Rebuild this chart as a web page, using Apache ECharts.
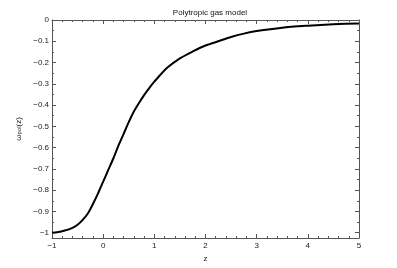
<!DOCTYPE html>
<html><head><meta charset="utf-8">
<script src="https://cdn.jsdelivr.net/npm/echarts@6/dist/echarts.min.js"></script>
<style>html,body{margin:0;padding:0;background:#fff}#c{width:397px;height:268px}</style>
</head><body><div id="c"></div>
<script>
const zValues = [-1, -0.9, -0.75, -0.6, -0.5, -0.4, -0.3, -0.2, -0.1, 0, 0.1, 0.2, 0.3, 0.4, 0.5, 0.6, 0.7, 0.8, 0.9, 1.0, 1.25, 1.5, 1.75, 2.0, 2.25, 2.5, 2.75, 3.0, 3.5, 4.0, 4.5, 5.0];
const wValues = [-1, -0.998, -0.99, -0.977, -0.963, -0.94, -0.91, -0.865, -0.815, -0.76, -0.705, -0.65, -0.59, -0.535, -0.48, -0.43, -0.39, -0.353, -0.32, -0.29, -0.225, -0.18, -0.148, -0.12, -0.1, -0.08, -0.064, -0.052, -0.036, -0.027, -0.02, -0.016];
const yMajorTicks = [0, -0.1, -0.2, -0.3, -0.4, -0.5, -0.6, -0.7, -0.8, -0.9, -1];
const yMinorTicks = [-0.05, -0.15, -0.25, -0.35, -0.45, -0.55, -0.65, -0.75, -0.85, -0.95];
const titleText = 'Polytropic gas model';
const xName = 'z';

const axisColor = '#555';
const labelColor = '#222';
const font = 'Liberation Sans, Arial, sans-serif';
const fmt = v => (v < 0 ? '\u2212' + String(Math.abs(+v.toFixed(2))) : String(+(+v).toFixed(2)));

const chart = echarts.init(document.getElementById('c'), null, {renderer: 'canvas'});
const yMin = -1.025, yMax = 0;
function yAx(pos, ticks, len, showLabel, showLine) {
  return {
    type: 'value', position: pos, min: yMin, max: yMax,
    axisLine: {show: showLine, onZero: false, lineStyle: {color: axisColor, width: 1}},
    axisTick: {show: true, inside: true, length: len, customValues: ticks, lineStyle: {color: axisColor}},
    axisLabel: showLabel ? {show: true, customValues: yMajorTicks, formatter: fmt, color: labelColor, fontSize: 8, fontFamily: font, margin: 3} : {show: false},
    splitLine: {show: false}
  };
}
const yAxes = [
  yAx('left', yMajorTicks, 4, true, true),
  yAx('left', yMinorTicks, 2, false, false),
  yAx('right', yMajorTicks, 4, false, true),
  yAx('right', yMinorTicks, 2, false, false)
];
yAxes[0].name = '{a|\u03c9}{s|pol}{a|(z)}';
yAxes[0].nameLocation = 'middle';
yAxes[0].nameGap = 22;
yAxes[0].nameTextStyle = {
  color: labelColor, fontFamily: font,
  rich: {
    a: {fontSize: 8, fontFamily: font, color: labelColor, verticalAlign: 'bottom', lineHeight: 12},
    s: {fontSize: 6, fontFamily: font, color: labelColor, verticalAlign: 'bottom', lineHeight: 8}
  }
};
function xAx(pos, showLabel) {
  return {
    type: 'value', position: pos, min: -1, max: 5, interval: 1,
    axisLine: {show: true, onZero: false, lineStyle: {color: axisColor, width: 1}},
    axisTick: {show: true, inside: true, length: 4, lineStyle: {color: axisColor}},
    minorTick: {show: true, splitNumber: 5, length: 2, lineStyle: {color: axisColor}},
    axisLabel: showLabel ? {show: true, formatter: fmt, color: labelColor, fontSize: 8, fontFamily: font, margin: 4} : {show: false},
    splitLine: {show: false}, minorSplitLine: {show: false}
  };
}
const xAxes = [xAx('bottom', true), xAx('top', false)];
xAxes[0].name = xName;
xAxes[0].nameLocation = 'middle';
xAxes[0].nameGap = 15;
xAxes[0].nameTextStyle = {color: labelColor, fontSize: 8, fontFamily: font};

chart.setOption({
  animation: false,
  backgroundColor: '#fff',
  title: {text: titleText, left: 205, top: 4, textAlign: 'center',
    textStyle: {fontSize: 8, fontWeight: 'normal', color: '#111', fontFamily: font}},
  grid: {left: 52, right: 38, top: 20, bottom: 30},
  xAxis: xAxes,
  yAxis: yAxes,
  series: [{
    type: 'line', xAxisIndex: 0, yAxisIndex: 0,
    data: zValues.map((z, i) => [z, wValues[i]]),
    smooth: 0.25, showSymbol: false, symbol: 'none',
    lineStyle: {color: '#000', width: 2}
  }]
});
</script></body></html>
